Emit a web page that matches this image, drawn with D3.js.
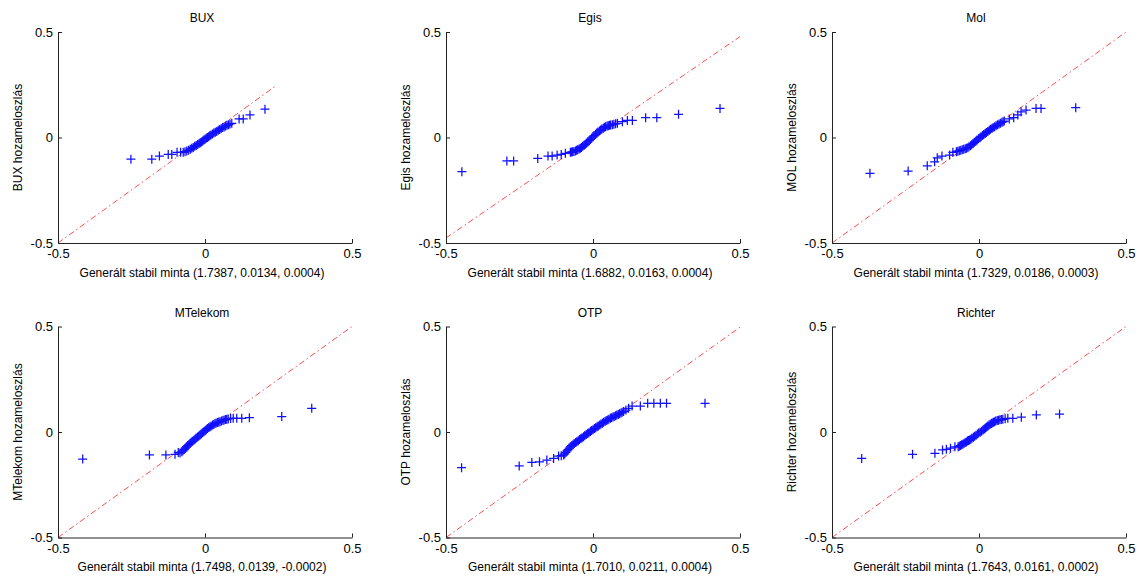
<!DOCTYPE html>
<html>
<head>
<meta charset="utf-8">
<script src="https://cdn.jsdelivr.net/npm/d3@7/dist/d3.min.js"></script>
<style>
  html, body { margin: 0; padding: 0; background: #fff; }
  svg { display: block; }
  text { font-family: "Liberation Sans", Arial, sans-serif; fill: #000; }
</style>
</head>
<body>
<svg id="chart" width="1146" height="576"></svg>
<script>
// ---- Data ----
const titles = ["BUX", "Egis", "Mol", "MTelekom", "OTP", "Richter"];
const yLabels = ["BUX hozameloszlás", "Egis hozameloszlás", "MOL hozameloszlás",
                 "MTelekom hozameloszlás", "OTP hozameloszlás", "Richter hozameloszlás"];
const xLabels = [
  "Generált stabil minta (1.7387, 0.0134, 0.0004)",
  "Generált stabil minta (1.6882, 0.0163, 0.0004)",
  "Generált stabil minta (1.7329, 0.0186, 0.0003)",
  "Generált stabil minta (1.7498, 0.0139, -0.0002)",
  "Generált stabil minta (1.7010, 0.0211, 0.0004)",
  "Generált stabil minta (1.7643, 0.0161, 0.0002)"
];
const tickValues = [-0.5, 0, 0.5];

// reference line end points (data units) for each panel
const refLines = [
  [[-0.5, -0.5], [0.24, 0.244]],
  [[-0.5, -0.476], [0.5, 0.478]],
  [[-0.5, -0.5], [0.5, 0.5]],
  [[-0.5, -0.5], [0.5, 0.5]],
  [[-0.5, -0.5], [0.5, 0.497]],
  [[-0.5, -0.5], [0.5, 0.5]]
];

// quantile pairs [generated stable sample, observed return]
const buxQ = [
  [-0.252,-0.103],[-0.181,-0.103],[-0.155,-0.088],[-0.125,-0.080],[-0.113,-0.080],[-0.095,-0.070],[-0.083,-0.070],
  [-0.074,-0.070],[-0.068,-0.067],[-0.062,-0.064],[-0.056,-0.061],[-0.050,-0.056],[-0.045,-0.051],[-0.040,-0.047],
  [-0.035,-0.042],[-0.030,-0.038],[-0.025,-0.033],[-0.020,-0.029],[-0.016,-0.025],[-0.012,-0.021],[-0.008,-0.017],
  [-0.004,-0.012],[0.000,-0.008],[0.004,-0.004],[0.008,0.000],[0.012,0.004],[0.016,0.008],[0.020,0.012],
  [0.025,0.017],[0.030,0.021],[0.035,0.025],[0.040,0.029],[0.045,0.034],[0.050,0.038],[0.055,0.043],
  [0.060,0.047],[0.065,0.050],[0.070,0.054],[0.075,0.058],[0.080,0.061],[0.085,0.064],[0.091,0.067],
  [0.116,0.088],[0.130,0.088],[0.153,0.107],[0.204,0.134]
];
const egisQ = [
  [-0.446,-0.162],[-0.293,-0.111],[-0.270,-0.111],[-0.188,-0.099],[-0.153,-0.088],[-0.139,-0.088],[-0.122,-0.083],
  [-0.108,-0.080],[-0.094,-0.075],
  [-0.077,-0.070],[-0.073,-0.069],[-0.069,-0.067],[-0.065,-0.066],[-0.060,-0.064],[-0.056,-0.061],[-0.052,-0.058],
  [-0.047,-0.055],[-0.043,-0.051],[-0.039,-0.047],[-0.035,-0.042],[-0.030,-0.037],[-0.026,-0.032],[-0.022,-0.027],
  [-0.018,-0.021],[-0.013,-0.015],[-0.009,-0.009],[-0.005,-0.003],[0.000,0.003],[0.004,0.009],[0.009,0.015],
  [0.013,0.021],[0.017,0.026],[0.022,0.031],[0.026,0.036],[0.030,0.040],[0.035,0.044],[0.039,0.048],
  [0.043,0.051],[0.048,0.054],[0.052,0.056],[0.056,0.058],[0.060,0.059],[0.066,0.061],[0.071,0.063],
  [0.077,0.065],[0.083,0.067],
  [0.100,0.075],[0.117,0.081],[0.134,0.081],[0.179,0.094],[0.217,0.094],[0.291,0.110],[0.432,0.138]
];
const molQ = [
  [-0.371,-0.170],[-0.241,-0.159],[-0.176,-0.134],[-0.151,-0.115],[-0.142,-0.096],[-0.126,-0.088],[-0.100,-0.083],
  [-0.089,-0.070],
  [-0.077,-0.067],[-0.072,-0.065],[-0.067,-0.063],[-0.062,-0.061],[-0.057,-0.058],[-0.052,-0.056],[-0.047,-0.053],
  [-0.043,-0.051],[-0.038,-0.048],[-0.034,-0.044],[-0.029,-0.039],[-0.025,-0.034],[-0.020,-0.029],[-0.016,-0.023],
  [-0.011,-0.018],[-0.007,-0.012],[-0.002,-0.006],[0.003,-0.001],[0.007,0.004],[0.012,0.009],[0.016,0.014],
  [0.021,0.019],[0.025,0.024],[0.030,0.029],[0.035,0.034],[0.039,0.039],[0.044,0.043],[0.048,0.047],
  [0.053,0.051],[0.058,0.056],[0.063,0.060],[0.068,0.064],[0.073,0.068],[0.078,0.072],[0.082,0.075],
  [0.086,0.078],
  [0.103,0.088],[0.118,0.094],[0.132,0.107],[0.143,0.122],[0.160,0.130],[0.194,0.138],[0.211,0.138],[0.329,0.141]
];
const mtelekomQ = [
  [-0.416,-0.128],[-0.189,-0.109],[-0.133,-0.109],[-0.102,-0.106],[-0.091,-0.097],[-0.085,-0.100],
  [-0.079,-0.094],[-0.075,-0.089],[-0.071,-0.083],[-0.067,-0.077],[-0.063,-0.071],[-0.059,-0.065],[-0.055,-0.060],
  [-0.051,-0.054],[-0.047,-0.049],[-0.043,-0.044],[-0.038,-0.039],[-0.034,-0.034],[-0.030,-0.029],[-0.025,-0.024],
  [-0.021,-0.019],[-0.017,-0.014],[-0.013,-0.009],[-0.009,-0.004],[-0.004,0.001],[0.000,0.006],[0.004,0.011],
  [0.008,0.016],[0.013,0.021],[0.017,0.025],[0.021,0.029],[0.026,0.033],[0.030,0.036],[0.034,0.040],
  [0.038,0.043],[0.043,0.045],[0.047,0.047],[0.051,0.049],[0.056,0.052],[0.061,0.055],[0.065,0.057],
  [0.070,0.059],[0.074,0.061],[0.079,0.062],
  [0.087,0.064],[0.096,0.065],[0.108,0.065],[0.125,0.065],[0.151,0.068],[0.261,0.073],[0.363,0.112]
];
const otpQ = [
  [-0.447,-0.169],[-0.251,-0.161],[-0.208,-0.144],[-0.182,-0.141],[-0.157,-0.133],[-0.134,-0.125],[-0.117,-0.114],
  [-0.108,-0.112],
  [-0.100,-0.109],[-0.096,-0.104],[-0.092,-0.097],[-0.088,-0.090],[-0.085,-0.083],[-0.081,-0.076],[-0.077,-0.070],
  [-0.073,-0.065],[-0.068,-0.060],[-0.064,-0.055],[-0.059,-0.050],[-0.055,-0.046],[-0.050,-0.041],[-0.046,-0.036],
  [-0.041,-0.031],[-0.037,-0.027],[-0.032,-0.022],[-0.028,-0.017],[-0.023,-0.012],[-0.018,-0.007],[-0.014,-0.003],
  [-0.009,0.002],[-0.005,0.007],[0.000,0.011],[0.005,0.016],[0.009,0.020],[0.014,0.025],[0.018,0.029],
  [0.023,0.033],[0.027,0.038],[0.032,0.042],[0.036,0.046],[0.041,0.050],[0.045,0.054],[0.050,0.057],
  [0.054,0.061],[0.059,0.065],[0.063,0.068],[0.068,0.071],[0.072,0.074],[0.077,0.077],[0.081,0.080],
  [0.086,0.083],[0.090,0.087],[0.095,0.090],[0.099,0.094],[0.104,0.097],
  [0.112,0.104],[0.121,0.112],[0.133,0.123],[0.161,0.123],[0.186,0.136],[0.207,0.136],[0.229,0.136],
  [0.250,0.136],[0.381,0.136]
];
const richterQ = [
  [-0.399,-0.125],[-0.226,-0.106],[-0.150,-0.101],[-0.124,-0.085],[-0.111,-0.082],[-0.097,-0.077],[-0.082,-0.070],
  [-0.071,-0.070],[-0.067,-0.067],[-0.063,-0.064],[-0.059,-0.061],[-0.055,-0.058],[-0.051,-0.054],[-0.047,-0.050],
  [-0.043,-0.047],[-0.039,-0.043],[-0.036,-0.040],[-0.032,-0.038],[-0.028,-0.034],[-0.024,-0.030],[-0.019,-0.025],
  [-0.015,-0.020],[-0.010,-0.015],[-0.005,-0.010],[-0.001,-0.005],[0.004,-0.001],[0.009,0.004],[0.014,0.009],
  [0.018,0.014],[0.022,0.019],[0.026,0.024],[0.030,0.029],[0.034,0.033],[0.038,0.037],[0.042,0.040],
  [0.045,0.043],[0.049,0.046],[0.053,0.049],[0.057,0.052],[0.062,0.054],[0.066,0.056],[0.071,0.058],
  [0.076,0.059],[0.081,0.060],
  [0.089,0.063],[0.098,0.065],[0.115,0.065],[0.144,0.070],[0.195,0.081],[0.274,0.085]
];
const seriesData = [buxQ, egisQ, molQ, mtelekomQ, otpQ, richterQ];

// ---- Layout ----
const colLeft = [58, 446, 832];
const plotW = 294;
const rowTop = [32, 326.5];
const plotH = 211;
const markerHalf = 4.5;

const svg = d3.select("#chart");

titles.forEach((title, i) => {
  const col = i % 3, row = Math.floor(i / 3);
  const left = colLeft[col], top = rowTop[row];
  const g = svg.append("g").attr("transform", `translate(${left},${top})`);

  const x = d3.scaleLinear().domain([-0.5, 0.5]).range([0, plotW]);
  const y = d3.scaleLinear().domain([-0.5, 0.5]).range([plotH, 0]);

  // reference line (dash-dot red)
  const rl = refLines[i];
  g.append("line")
    .attr("x1", x(rl[0][0])).attr("y1", y(rl[0][1]))
    .attr("x2", x(rl[1][0])).attr("y2", y(rl[1][1]))
    .attr("stroke", "#ff2020")
    .attr("stroke-width", 1)
    .attr("stroke-opacity", 0.8)
    .attr("stroke-dasharray", "6,3,1.5,3");

  // '+' markers
  const pts = g.append("g").attr("stroke", "#1010ff").attr("stroke-width", 1.25).attr("fill", "none");
  pts.selectAll("path").data(seriesData[i]).enter().append("path")
    .attr("d", d => {
      const cx = x(d[0]), cy = y(d[1]);
      return `M${cx - markerHalf},${cy}H${cx + markerHalf}M${cx},${cy - markerHalf}V${cy + markerHalf}`;
    });

  // axes
  const yAxis = d3.axisLeft(y).tickValues(tickValues).tickFormat(d => String(d))
    .tickSizeInner(-4).tickSizeOuter(0).tickPadding(5);
  const xAxis = d3.axisBottom(x).tickValues(tickValues).tickFormat(d => String(d))
    .tickSizeInner(-4).tickSizeOuter(0).tickPadding(6);

  const ga = g.append("g").call(yAxis);
  const gb = g.append("g").attr("transform", `translate(0,${plotH})`).call(xAxis);
  [ga, gb].forEach(a => {
    a.select(".domain").attr("stroke", "#222");
    a.selectAll(".tick line").attr("stroke", "#222");
    a.selectAll("text").style("font-size", "13px").style("font-family", '"Liberation Sans", Arial, sans-serif').attr("fill", "#000");
  });

  // title
  g.append("text")
    .attr("x", plotW / 2 - 3).attr("y", -10)
    .attr("text-anchor", "middle")
    .style("font-size", "12px")
    .text(title);

  // x label
  g.append("text")
    .attr("x", plotW / 2 - 3).attr("y", plotH + 33.5)
    .attr("text-anchor", "middle")
    .style("font-size", "12px")
    .text(xLabels[i]);

  // y label
  g.append("text")
    .attr("transform", `translate(-36.5,${plotH / 2}) rotate(-90)`)
    .attr("text-anchor", "middle")
    .style("font-size", "12px")
    .text(yLabels[i]);
});
</script>
</body>
</html>
